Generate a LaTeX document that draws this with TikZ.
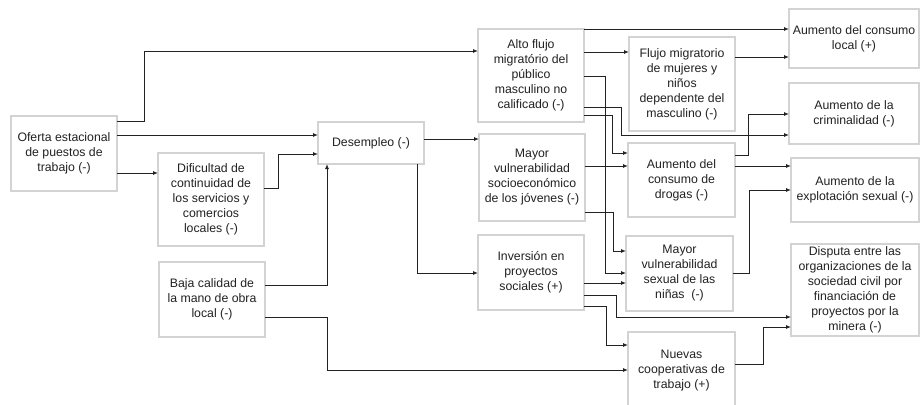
\documentclass[tikz,border=0pt]{standalone}
\usepackage{fontspec}
\setmainfont{Liberation Sans}
\usetikzlibrary{arrows.meta,calc}
\definecolor{boxgray}{HTML}{D3D3D3}
\definecolor{ink}{HTML}{222222}
\begin{document}
\begin{tikzpicture}[x=1pt,y=-1pt,
  box/.style 2 args={draw=boxgray, line width=1.1pt, minimum width=#1pt,
    minimum height=#2pt, inner sep=0pt, outer sep=0pt, align=center,
    text=ink, font=\fontsize{12.3}{15}\selectfont},
  conn/.style={draw=ink, line width=0.9pt, -{Latex[length=5pt,width=4pt]}}]
\fill[white] (0,0) rectangle (920,404);
\clip (0,0) rectangle (920,404);
\useasboundingbox (0,0) rectangle (920,404);

% causes on the left
\node[box={106}{75}] (oferta) at (64,153.5) {Oferta estacional\\de puestos de\\trabajo (-)};
\node[box={106}{93}] (dific) at (211,199.5) {Dificultad de\\continuidad de\\los servicios y\\comercios\\locales (-)};
\node[box={106}{75}] (baja) at (212,299.5) {Baja calidad de\\la mano de obra\\local (-)};
\node[box={106}{42}] (desem) at (371,143) {Desempleo (-)};

% second column
\node[box={106}{93}] (alto) at (531,75.5) {Alto flujo\\migratório del\\público\\masculino no\\calificado (-)};
\node[box={106}{87}] (mayor) at (532,177.5) {Mayor\\vulnerabilidad\\socioeconómico\\de los jóvenes (-)};
\node[box={106}{75}] (inver) at (531,272.5) {Inversión en\\proyectos\\sociales (+)};

% third column
\node[box={106}{94}] (flujo) at (682,84) {Flujo migratorio\\de mujeres y\\niños\\dependente del\\masculino (-)};
\node[box={107}{74}] (drogas) at (681.5,180) {Aumento del\\consumo de\\drogas (-)};
\node[box={107}{75}] (ninas) at (679.5,273.5) {Mayor\\vulnerabilidad\\sexual de las\\niñas\ \ (-)};
\node[box={107}{78}] (nuevas) at (681.5,371) {Nuevas\\cooperativas de\\trabajo (+)};

% effects on the right
\node[box={130}{59}] (consumo) at (854,38.5) {Aumento del consumo\\local (+)};
\node[box={130}{61}] (crimi) at (854,113.5) {Aumento de la\\criminalidad (-)};
\node[box={128}{64}] (explo) at (855,190) {Aumento de la\\explotación sexual (-)};
\node[box={128}{92}] (disputa) at (855,290) {Disputa entre las\\organizaciones de la\\sociedad civil por\\financiación de\\proyectos por la\\minera (-)};

% connectors from the left column
\draw[conn] ($(oferta.north east)+(0,5)$) -- ++(27,0) |- ($(alto.north west)+(0,22)$);
\draw[conn] ($(oferta.north east)+(0,19)$) -- ($(desem.north west)+(0,13)$);
\draw[conn] ($(oferta.north east)+(0,57)$) -- ($(dific.north west)+(0,20)$);
\draw[conn] ($(dific.north east)+(0,35)$) -- ++(14,0) |- ($(desem.north west)+(0,32)$);
\draw[conn] ($(baja.north east)+(0,23)$) -| ($(desem.south west)+(9,0)$);
\draw[conn] ($(baja.north east)+(0,55)$) -- ++(62,0) |- ($(nuevas.north west)+(0,38)$);
\draw[conn] ($(desem.north east)+(0,17)$) -- ($(mayor.north west)+(0,5)$);
\draw[conn] ($(desem.south east)+(-7,0)$) |- ($(inver.north west)+(0,38)$);

% connectors from the second column
\draw[conn] (alto.north east) -- ($(consumo.north west)+(0,20)$);
\draw[conn] ($(alto.north east)+(0,23)$) -- ($(flujo.north west)+(0,15)$);
\draw[conn] ($(alto.north east)+(0,47)$) -- ++(21,0) |- ($(ninas.north west)+(0,37)$);
\draw[conn] ($(alto.north east)+(0,78)$) -- ++(37,0) |- ($(crimi.north west)+(0,52)$);
\draw[conn] ($(alto.north east)+(0,86)$) -- ++(28,0) |- ($(drogas.north west)+(0,10)$);
\draw[conn] ($(mayor.north east)+(0,32)$) -- ($(drogas.north west)+(0,23)$);
\draw[conn] ($(mayor.north east)+(0,78)$) -- ++(28,0) |- ($(ninas.north west)+(0,15)$);
\draw[conn] ($(inver.north east)+(0,48)$) -- ($(ninas.north west)+(0,47)$);
\draw[conn] ($(inver.north east)+(0,60)$) -- ++(32,0) |- ($(disputa.north west)+(0,73)$);
\draw[conn] ($(inver.north east)+(0,71)$) -- ++(22,0) |- ($(nuevas.north west)+(0,13)$);

% connectors from the third column
\draw[conn] ($(flujo.north east)+(0,20)$) -- ($(consumo.north west)+(0,48)$);
\draw[conn] ($(drogas.north east)+(0,12)$) -- ++(13,0) |- ($(crimi.north west)+(0,31)$);
\draw[conn] ($(drogas.north east)+(0,23)$) -- ($(explo.north west)+(0,8)$);
\draw[conn] ($(ninas.north east)+(0,37)$) -- ++(16,0) |- ($(explo.north west)+(0,32)$);
\draw[conn] ($(nuevas.north east)+(0,32)$) -- ++(28,0) |- ($(disputa.north west)+(0,83)$);
\end{tikzpicture}
\end{document}
